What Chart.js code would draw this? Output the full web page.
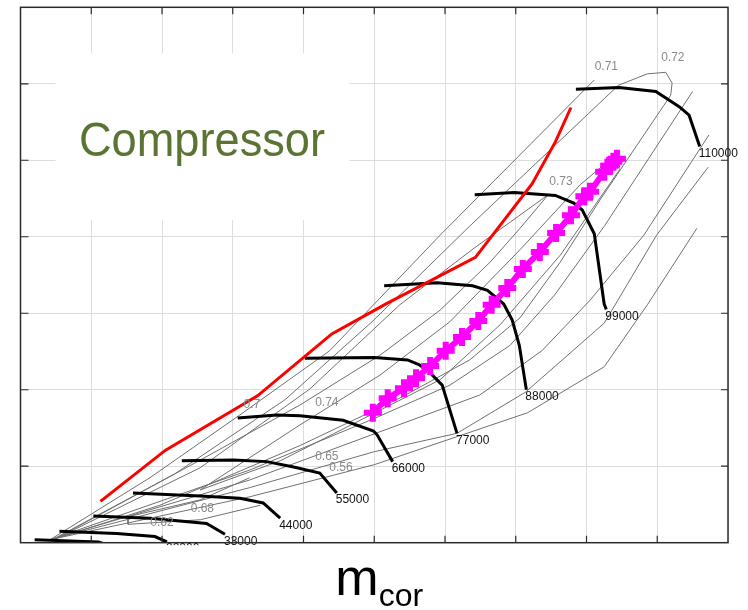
<!DOCTYPE html>
<html>
<head>
<meta charset="utf-8">
<script src="https://cdn.jsdelivr.net/npm/chart.js@4.4.1/dist/chart.umd.min.js"></script>
<style>
  html, body { margin: 0; padding: 0; background: #fff; }
</style>
</head>
<body>
<canvas id="compMap" width="748" height="610"></canvas>
<script>
// corrected speed lines, [m_cor, pressure ratio]
const speedNames = ['110000', '99000', '88000', '77000', '66000', '55000', '44000', '33000', '22000', '11000'];
const n110000 = [[7.85, 5.93], [8.46, 5.95], [8.98, 5.90], [9.31, 5.70], [9.45, 5.59], [9.60, 5.18]];
const n99000 = [[6.42, 4.55], [6.98, 4.58], [7.56, 4.54], [7.82, 4.44], [7.94, 4.35], [8.11, 4.04], [8.25, 3.12], [8.28, 3.05]];
const n88000 = [[5.14, 3.36], [5.89, 3.40], [6.39, 3.36], [6.60, 3.30], [6.83, 3.12], [6.95, 2.91], [7.05, 2.58], [7.15, 2.00]];
const n77000 = [[4.02, 2.41], [5.00, 2.42], [5.47, 2.39], [5.63, 2.33], [5.77, 2.24], [5.96, 2.06], [6.17, 1.43]];
const n66000 = [[3.07, 1.63], [3.62, 1.67], [3.95, 1.66], [4.56, 1.60], [4.99, 1.46], [5.04, 1.41], [5.26, 1.06]];
const n55000 = [[2.28, 1.07], [3.01, 1.08], [3.48, 1.06], [3.86, 0.99], [4.23, 0.91], [4.47, 0.65]];
const n44000 = [[1.59, 0.65], [2.54, 0.61], [3.10, 0.58], [3.43, 0.52], [3.67, 0.32]];
const n33000 = [[1.03, 0.35], [1.83, 0.32], [2.63, 0.25], [2.89, 0.11]];
const n22000 = [[0.55, 0.15], [1.36, 0.12], [1.90, 0.08], [2.07, 0.01]];
const n11000 = [[0.20, 0.04], [1.10, 0.01], [1.20, -0.02]];
const speedLines = [n110000, n99000, n88000, n77000, n66000, n55000, n44000, n33000, n22000, n11000];

// surge line
const surgeLine = [[1.13, 0.54], [2.05, 1.21], [3.35, 1.92], [4.40, 2.73], [5.16, 3.12], [6.43, 3.73], [7.23, 4.69], [7.56, 5.24], [7.78, 5.69]];

// operating points
const opPoints = [[4.98, 1.70], [5.19, 1.89], [5.42, 2.02], [5.59, 2.15], [5.79, 2.31], [6.01, 2.51], [6.24, 2.69], [6.47, 2.90],
  [6.66, 3.11], [6.88, 3.33], [7.10, 3.58], [7.34, 3.80], [7.57, 4.05], [7.78, 4.28], [7.97, 4.53], [8.05, 4.59],
  [8.25, 4.85], [8.32, 4.93], [8.38, 4.98], [8.43, 5.02]];

// efficiency contours
const eta071 = [[0.42, 0.04], [1.83, 0.85], [3.10, 1.67], [4.37, 2.51], [5.93, 4.02], [8.11, 6.05]];
const eta072 = [[0.45, 0.04], [2.18, 0.90], [3.74, 1.87], [4.97, 2.89], [6.35, 4.14], [8.45, 5.98], [8.86, 6.13], [9.12, 6.15],
  [9.21, 6.01], [9.19, 5.85], [8.19, 4.48], [7.63, 3.67], [7.06, 2.94], [6.35, 2.39], [5.36, 1.89], [3.95, 1.27], [1.97, 0.49], [0.45, 0.04]];
const eta073 = [[0.47, 0.04], [2.54, 0.98], [4.09, 2.01], [5.36, 3.11], [6.41, 3.85], [7.46, 4.55], [7.06, 4.11], [6.64, 3.67],
  [5.93, 3.04], [5.08, 2.45], [3.95, 1.80], [2.54, 1.08], [0.47, 0.04]];
const eta074 = [[2.54, 0.69], [3.95, 1.54], [5.08, 2.19], [6.07, 2.89], [7.06, 3.83], [7.91, 4.68], [8.36, 5.03], [8.47, 4.88],
  [7.63, 3.76], [6.78, 2.85], [5.93, 2.13], [4.80, 1.60], [3.67, 1.07], [2.54, 0.69]];
const eta070 = [[0.42, 0.04], [3.24, 0.95], [4.94, 1.60], [6.07, 2.06], [6.92, 2.58], [7.55, 3.24], [8.26, 4.15], [9.50, 5.90]];
const eta065 = [[0.42, 0.04], [3.24, 0.82], [5.08, 1.45], [6.49, 1.93], [7.37, 2.51], [8.05, 3.17], [8.81, 4.02], [9.73, 5.33]];
const eta060 = [[0.42, 0.04], [3.24, 0.72], [5.00, 1.19], [6.17, 1.43], [7.14, 1.97], [8.25, 2.87], [8.99, 4.02], [9.72, 4.91]];
const eta056 = [[0.42, 0.04], [3.24, 0.60], [5.00, 1.02], [7.17, 1.70], [8.25, 2.30], [8.86, 3.11], [9.56, 4.11]];
const eta062 = [[3.24, 0.85], [2.54, 0.56], [1.52, 0.34], [1.52, 0.24], [2.54, 0.30], [3.39, 0.49]];
const contourLines = [eta071, eta072, eta073, eta074, eta070, eta065, eta060, eta056, eta062];

const contourText = ['0.71', '0.72', '0.73', '0.7', '0.74', '0.65', '0.56', '0.68', '0.62'];
const contourTextAt = [[8.28, 6.22], [9.22, 6.34], [7.64, 4.72], [3.27, 1.81], [4.33, 1.83], [4.33, 1.12], [4.53, 0.98], [2.57, 0.45], [2.00, 0.26]];

const datasets = [];
contourLines.forEach(pts => datasets.push({
  data: pts.map(p => ({ x: p[0], y: p[1] })),
  borderColor: '#707070', borderWidth: 1, pointRadius: 0, order: 4
}));
speedLines.forEach(pts => datasets.push({
  data: pts.map(p => ({ x: p[0], y: p[1] })),
  borderColor: '#000000', borderWidth: 3, pointRadius: 0, order: 3
}));
datasets.push({
  data: surgeLine.map(p => ({ x: p[0], y: p[1] })),
  borderColor: '#ff0000', borderWidth: 3, pointRadius: 0, order: 2
});
datasets.push({
  data: opPoints.map(p => ({ x: p[0], y: p[1] })),
  borderColor: '#ff00ff', borderWidth: 6,
  pointStyle: 'cross', pointRadius: 9, pointBorderWidth: 6,
  pointBorderColor: '#ff00ff', pointBackgroundColor: '#ff00ff', order: 1
});

// white panel with the component name, behind the curves
const namePanel = {
  id: 'namePanel',
  beforeDatasetsDraw(chart) {
    const { ctx, chartArea: a } = chart;
    ctx.save();
    ctx.fillStyle = '#ffffff';
    ctx.fillRect(a.left + 35, a.top + 46, 294, 167);
    ctx.font = '48px "Liberation Sans", Arial, sans-serif';
    ctx.fillStyle = '#5b7434';
    ctx.textBaseline = 'alphabetic';
    const w = ctx.measureText('Compressor').width;
    ctx.translate(a.left + 58.5, a.top + 149);
    ctx.scale(246 / w, 1);
    ctx.fillText('Compressor', 0, 0);
    ctx.restore();
  }
};

// contour values and speed labels
const curveLabels = {
  id: 'curveLabels',
  afterDatasetsDraw(chart) {
    const { ctx, chartArea: a, scales: { x, y } } = chart;
    ctx.save();
    ctx.beginPath();
    ctx.rect(0, 0, chart.width, a.bottom + 2.5);
    ctx.clip();
    ctx.font = '12px "Liberation Sans", Arial, sans-serif';
    ctx.textAlign = 'center';
    ctx.textBaseline = 'middle';
    ctx.fillStyle = '#8a8a8a';
    contourText.forEach((t, i) => {
      ctx.fillText(t, x.getPixelForValue(contourTextAt[i][0]), y.getPixelForValue(contourTextAt[i][1]));
    });
    ctx.textAlign = 'left';
    ctx.textBaseline = 'top';
    ctx.fillStyle = '#111111';
    speedLines.forEach((pts, i) => {
      const end = pts[pts.length - 1];
      ctx.fillText(speedNames[i], x.getPixelForValue(end[0]) - 1, y.getPixelForValue(end[1]) + 1);
    });
    ctx.restore();
  }
};

// box, inward ticks on all four sides, and the m_cor title
const frame = {
  id: 'frame',
  afterDraw(chart) {
    const { ctx, chartArea: a, scales: { x, y } } = chart;
    ctx.save();
    ctx.strokeStyle = '#2b2b2b';
    ctx.lineWidth = 1.5;
    ctx.strokeRect(a.left, a.top, a.right - a.left, a.bottom - a.top);
    ctx.lineWidth = 1.2;
    ctx.beginPath();
    for (let v = 1; v < 10; v++) {
      const px = x.getPixelForValue(v);
      ctx.moveTo(px, a.bottom); ctx.lineTo(px, a.bottom - 7);
      ctx.moveTo(px, a.top); ctx.lineTo(px, a.top + 7);
    }
    for (let v = 1; v < 7; v++) {
      const py = y.getPixelForValue(v);
      ctx.moveTo(a.left, py); ctx.lineTo(a.left + 8, py);
      ctx.moveTo(a.right, py); ctx.lineTo(a.right - 7, py);
    }
    ctx.stroke();

    ctx.fillStyle = '#000000';
    ctx.textBaseline = 'alphabetic';
    ctx.font = '52px "Liberation Sans", Arial, sans-serif';
    const wm = ctx.measureText('m').width;
    ctx.font = '32px "Liberation Sans", Arial, sans-serif';
    const wc = ctx.measureText('cor').width;
    const x0 = (a.left + a.right) / 2 - (wm + wc) / 2 + 5;
    ctx.font = '52px "Liberation Sans", Arial, sans-serif';
    ctx.fillText('m', x0, a.bottom + 52);
    ctx.font = '32px "Liberation Sans", Arial, sans-serif';
    ctx.fillText('cor', x0 + wm, a.bottom + 63);
    ctx.restore();
  }
};

new Chart(document.getElementById('compMap'), {
  type: 'scatter',
  data: { datasets },
  options: {
    responsive: false,
    animation: false,
    showLine: true,
    layout: { autoPadding: false, padding: { left: 20.5, right: 20, top: 7.3, bottom: 67.3 } },
    elements: { line: { tension: 0, fill: false } },
    plugins: { legend: { display: false }, tooltip: { enabled: false } },
    scales: {
      x: {
        min: 0, max: 10,
        ticks: { display: false, stepSize: 1 },
        grid: { color: '#dddddd', lineWidth: 1, drawTicks: false },
        border: { display: false }
      },
      y: {
        min: 0, max: 7,
        ticks: { display: false, stepSize: 1 },
        grid: { color: '#dddddd', lineWidth: 1, drawTicks: false },
        border: { display: false }
      }
    }
  },
  plugins: [namePanel, curveLabels, frame]
});
</script>
</body>
</html>
